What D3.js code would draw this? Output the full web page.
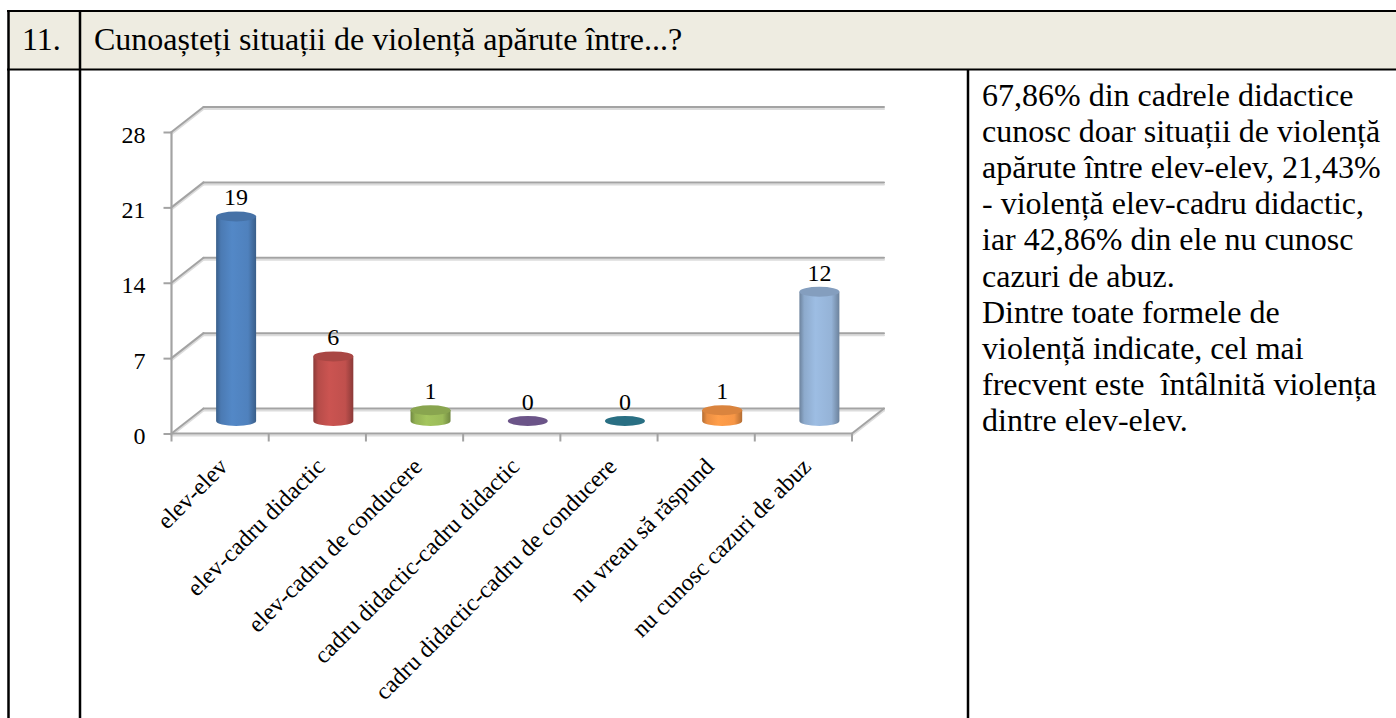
<!DOCTYPE html>
<html>
<head>
<meta charset="utf-8">
<script src="https://cdn.jsdelivr.net/npm/d3@7"></script>
<style>
  body { margin: 0; background: #fff; }
  svg { display: block; }
  svg text { font-family: "Liberation Serif", "Times New Roman", serif; fill: #000; }
</style>
</head>
<body>
<svg id="page" width="1396" height="718"></svg>
<script>
// DATA
var categories = ["elev-elev", "elev-cadru didactic", "elev-cadru de conducere",
                  "cadru didactic-cadru didactic", "cadru didactic-cadru de conducere",
                  "nu vreau să răspund", "nu cunosc cazuri de abuz"];
var values = [19, 6, 1, 0, 0, 1, 12];
var barColors = ["#4f81bd", "#c0504d", "#9bbb59", "#8064a2", "#31859c", "#f79646", "#95b3d7"];
var yTicks = [0, 7, 14, 21, 28];

var rowNumber = "11.";
var question = "Cunoașteți situații de violență apărute între...?";
var comment = [
  "67,86% din cadrele didactice",
  "cunosc doar situații de violență",
  "apărute între elev-elev, 21,43%",
  "- violență elev-cadru didactic,",
  "iar 42,86% din ele nu cunosc",
  "cazuri de abuz.",
  "Dintre toate formele de",
  "violență indicate, cel mai",
  "frecvent este\u00a0 întâlnită violența",
  "dintre elev-elev."
];

var serif = "'Liberation Serif', 'Times New Roman', serif";

var svg = d3.select("#page");
var defs = svg.append("defs");

// TABLE
svg.append("rect").attr("x", 8).attr("y", 11).attr("width", 1390).attr("height", 58).attr("fill", "#eeece1");
var border = svg.append("g").attr("stroke", "#000").attr("fill", "none");
border.append("line").attr("x1", 7).attr("x2", 1396).attr("y1", 11).attr("y2", 11).attr("stroke-width", 2);
border.append("line").attr("x1", 7).attr("x2", 1396).attr("y1", 69.5).attr("y2", 69.5).attr("stroke-width", 2);
border.append("line").attr("x1", 8.5).attr("x2", 8.5).attr("y1", 10).attr("y2", 718).attr("stroke-width", 2.5);
border.append("line").attr("x1", 80).attr("x2", 80).attr("y1", 10).attr("y2", 718).attr("stroke-width", 2.5);
border.append("line").attr("x1", 968).attr("x2", 968).attr("y1", 69).attr("y2", 718).attr("stroke-width", 2.5);

svg.append("text").attr("x", 22).attr("y", 50)
  .attr("font-family", serif).style("font-size", "32px").text(rowNumber);
svg.append("text").attr("x", 94).attr("y", 50)
  .attr("font-family", serif).style("font-size", "32px").text(question);

svg.append("g").selectAll("text")
  .data(comment)
  .enter().append("text")
  .attr("x", 982)
  .attr("y", function(d, i) { return 106 + i * 36.1; })
  .attr("font-family", serif)
  .style("font-size", "32px")
  .text(function(d) { return d; });

// CHART
var depthX = 32, depthY = -25;
var x = d3.scaleBand().domain(categories).range([171.5, 852]).padding(0);
var y = d3.scaleLinear().domain([0, 28]).range([433.5, 132]);
var x0 = x.range()[0], x1 = x.range()[1];

var grid = svg.append("g").attr("fill", "none").attr("stroke-linecap", "round");
function wallLine(g, a, b, col, w, off) {
  g.append("line").attr("x1", a[0]).attr("y1", a[1] + off).attr("x2", b[0]).attr("y2", b[1] + off)
    .attr("stroke", col).attr("stroke-width", w);
}
// light shadow first, then the grey line
[["#dcdcdc", 2, 2], ["#a3a3a3", 2, 0]].forEach(function(s) {
  yTicks.forEach(function(t) {
    wallLine(grid, [x0 + depthX, y(t) + depthY], [x1 + depthX, y(t) + depthY], s[0], s[1], s[2]);
    wallLine(grid, [x0, y(t)], [x0 + depthX, y(t) + depthY], s[0], s[1], s[2]);
  });
  wallLine(grid, [x1, y(0)], [x1 + depthX, y(0) + depthY], s[0], s[1], s[2]);
  wallLine(grid, [x0, y(0)], [x1, y(0)], s[0], s[1], s[2]);
  wallLine(grid, [x0, y(28)], [x0, y(0)], s[0], s[1], 0);
});

// y axis ticks and labels
var yAxis = svg.append("g")
  .attr("transform", "translate(" + x0 + ",0)")
  .call(d3.axisLeft(y).tickValues(yTicks).tickSize(8).tickPadding(18).tickFormat(d3.format("d")));
yAxis.attr("font-family", serif).attr("font-size", 24);
yAxis.select(".domain").remove();
yAxis.selectAll(".tick line").attr("stroke", "#a3a3a3").attr("stroke-width", 2);
yAxis.selectAll(".tick text")
  .attr("dy", "0.42em")
  .attr("fill", "#000");

// category boundary ticks
var bounds = categories.map(function(c) { return x(c); }).concat([x1]);
svg.append("g").selectAll("line")
  .data(bounds)
  .enter().append("line")
  .attr("x1", function(d) { return d; }).attr("x2", function(d) { return d; })
  .attr("y1", y(0)).attr("y2", y(0) + 8)
  .attr("stroke", "#a3a3a3").attr("stroke-width", 2);

// cylinders
var bw = x.bandwidth();
var rx = 20, ry = 5;
barColors.forEach(function(c, i) {
  var base = d3.color(c);
  var g = defs.append("linearGradient").attr("id", "cyl" + i)
    .attr("x1", "0%").attr("x2", "100%").attr("y1", "0%").attr("y2", "0%");
  g.append("stop").attr("offset", "0%").attr("stop-color", base.darker(0.9));
  g.append("stop").attr("offset", "12%").attr("stop-color", base.darker(0.15));
  g.append("stop").attr("offset", "40%").attr("stop-color", base.brighter(0.15));
  g.append("stop").attr("offset", "80%").attr("stop-color", base);
  g.append("stop").attr("offset", "100%").attr("stop-color", base.darker(0.9));
});

var bars = svg.append("g").selectAll("g")
  .data(values)
  .enter().append("g");

bars.each(function(v, i) {
  var g = d3.select(this);
  var cx = x(categories[i]) + bw / 2 + depthX / 2;
  var yb = y(0) + depthY / 2;
  var yt = y(v) + depthY / 2;
  var col = d3.color(barColors[i]);
  if (v > 0) {
    g.append("path")
      .attr("d", "M" + (cx - rx) + "," + yt + " L" + (cx - rx) + "," + yb +
        " A" + rx + "," + ry + " 0 0 0 " + (cx + rx) + "," + yb +
        " L" + (cx + rx) + "," + yt + " Z")
      .attr("fill", "url(#cyl" + i + ")");
    g.append("ellipse")
      .attr("cx", cx).attr("cy", yt).attr("rx", rx).attr("ry", ry)
      .attr("fill", col.darker(0.35));
  } else {
    g.append("ellipse")
      .attr("cx", cx).attr("cy", yt).attr("rx", rx).attr("ry", ry)
      .attr("fill", col.darker(0.5));
  }
  g.append("text")
    .attr("x", cx).attr("y", yt - 11)
    .attr("text-anchor", "middle")
    .attr("font-family", serif)
    .style("font-size", "24px")
    .text(v);
});

// rotated category labels
svg.append("g").selectAll("text")
  .data(categories)
  .enter().append("text")
  .attr("text-anchor", "end")
  .attr("transform", function(d) { return "translate(" + (x(d) + bw / 2 + 9) + ",468) rotate(-45)"; })
  .attr("font-family", serif)
  .style("font-size", "24px")
  .text(function(d) { return d; });
</script>
</body>
</html>
